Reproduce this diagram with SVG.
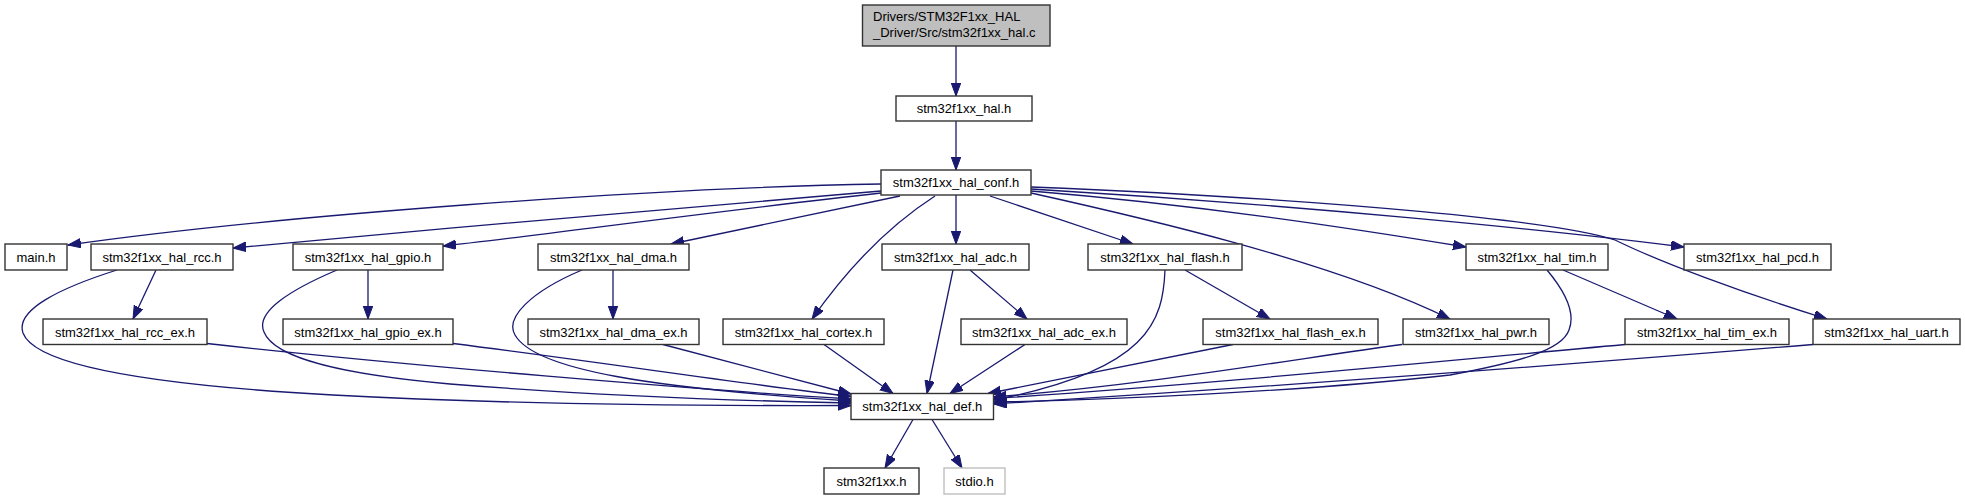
<svg xmlns="http://www.w3.org/2000/svg" width="1965" height="500" viewBox="0 0 1965 500">
<style>
.n rect{fill:#ffffff;stroke:#333333;stroke-width:1.4}
.n text{font-family:"Liberation Sans",Arial,sans-serif;font-size:13px;fill:#000000;text-anchor:middle}
#n_root rect{fill:#bfbfbf}
#n_root text{text-anchor:start}
#n_stdio rect{stroke:#bfbfbf}
.e path{fill:none;stroke:#191970;stroke-width:1.3;marker-end:url(#arr)}
</style>
<defs>
<marker id="arr" markerUnits="userSpaceOnUse" markerWidth="14" markerHeight="11" refX="13" refY="4.75" orient="auto"><path d="M0,0 L13,4.75 L0,9.5 z" fill="#191970" stroke="#191970" stroke-width="1"/></marker>
</defs>
<rect width="1965" height="500" fill="#ffffff"/>
<g id="edges" class="e">
<path d="M956,46 L956,96"/>
<path d="M956,121 L956,170"/>
<path d="M881,184 C 650,188 280,215 68,245"/>
<path d="M881,191 C 700,205 450,228 233,248"/>
<path d="M881,193 C 700,213 520,238 443,246"/>
<path d="M900,196 L671,244"/>
<path d="M935,196 C 890,225 850,265 812,319"/>
<path d="M956,195 L956,244"/>
<path d="M990,196 L1133,244"/>
<path d="M1031,193 C 1130,215 1330,260 1450,319"/>
<path d="M1031,191 C 1200,205 1350,228 1466,247"/>
<path d="M1031,189 C 1300,205 1550,230 1684,247"/>
<path d="M1031,187 C 1350,200 1560,222 1615,240 C 1660,262 1740,292 1827,319"/>
<path d="M156,270 L133,319"/>
<path d="M117,270 C 60,288 15,310 23,333 C 35,365 150,385 333,395 C 500,404 700,406 851,405.5"/>
<path d="M368,270 L368,319"/>
<path d="M337,270 C 290,290 255,312 264,332 C 275,360 350,375 450,384 C 600,396 750,401 851,403"/>
<path d="M207,343.5 C 400,365 700,390 851,399"/>
<path d="M453,343.5 C 600,362 750,385 851,396.5"/>
<path d="M613,270 L613,319"/>
<path d="M582,270 C 530,292 505,318 515,335 C 535,370 650,388 851,401"/>
<path d="M663,344.5 L851,394"/>
<path d="M824,344.5 L893,393.5"/>
<path d="M953,270 L927,393.5"/>
<path d="M970,270 L1027,319"/>
<path d="M1025,344.5 L950,393.5"/>
<path d="M1185,270 L1270,319"/>
<path d="M1165,270 C 1163,320 1150,370 993.5,400"/>
<path d="M1233,344.5 L988,393.5"/>
<path d="M1402,344.5 C 1300,358 1150,385 993.5,397"/>
<path d="M1547,270 C 1568,295 1575,315 1569,330 C 1562,350 1520,362 1450,375 C 1300,392 1100,400 993.5,402"/>
<path d="M1563,270 L1677,319"/>
<path d="M1625,344.5 C 1400,365 1200,385 993.5,398.5"/>
<path d="M1813,344.5 C 1600,362 1300,385 993.5,404"/>
<path d="M913,419.5 L885,468"/>
<path d="M932,419.5 L962,468"/>
</g>
<g id="n_root" class="n"><rect x="862.5" y="5" width="187.5" height="41"/><text x="873" y="21">Drivers/STM32F1xx_HAL</text><text x="873" y="37">_Driver/Src/stm32f1xx_hal.c</text></g>
<g id="n_hal" class="n"><rect x="896" y="96" width="136" height="25"/><text x="964" y="113">stm32f1xx_hal.h</text></g>
<g id="n_conf" class="n"><rect x="881" y="170" width="150" height="25"/><text x="956" y="187">stm32f1xx_hal_conf.h</text></g>
<g id="n_main" class="n"><rect x="5" y="244" width="62" height="26"/><text x="36" y="261.5">main.h</text></g>
<g id="n_rcc" class="n"><rect x="91" y="244" width="142" height="26"/><text x="162" y="261.5">stm32f1xx_hal_rcc.h</text></g>
<g id="n_gpio" class="n"><rect x="293" y="244" width="150" height="26"/><text x="368" y="261.5">stm32f1xx_hal_gpio.h</text></g>
<g id="n_dma" class="n"><rect x="538" y="244" width="151" height="26"/><text x="613.5" y="261.5">stm32f1xx_hal_dma.h</text></g>
<g id="n_adc" class="n"><rect x="882" y="244" width="147" height="26"/><text x="955.5" y="261.5">stm32f1xx_hal_adc.h</text></g>
<g id="n_flash" class="n"><rect x="1088" y="244" width="154" height="26"/><text x="1165" y="261.5">stm32f1xx_hal_flash.h</text></g>
<g id="n_tim" class="n"><rect x="1466" y="244" width="142" height="26"/><text x="1537" y="261.5">stm32f1xx_hal_tim.h</text></g>
<g id="n_pcd" class="n"><rect x="1684" y="244" width="147" height="26"/><text x="1757.5" y="261.5">stm32f1xx_hal_pcd.h</text></g>
<g id="n_rcc_ex" class="n"><rect x="43" y="319" width="164" height="25.5"/><text x="125" y="336.5">stm32f1xx_hal_rcc_ex.h</text></g>
<g id="n_gpio_ex" class="n"><rect x="283" y="319" width="170" height="25.5"/><text x="368" y="336.5">stm32f1xx_hal_gpio_ex.h</text></g>
<g id="n_dma_ex" class="n"><rect x="528" y="319" width="171" height="25.5"/><text x="613.5" y="336.5">stm32f1xx_hal_dma_ex.h</text></g>
<g id="n_cortex" class="n"><rect x="723" y="319" width="161" height="25.5"/><text x="803.5" y="336.5">stm32f1xx_hal_cortex.h</text></g>
<g id="n_adc_ex" class="n"><rect x="961" y="319" width="166" height="25.5"/><text x="1044" y="336.5">stm32f1xx_hal_adc_ex.h</text></g>
<g id="n_flash_ex" class="n"><rect x="1203" y="319" width="175" height="25.5"/><text x="1290.5" y="336.5">stm32f1xx_hal_flash_ex.h</text></g>
<g id="n_pwr" class="n"><rect x="1403" y="319" width="146" height="25.5"/><text x="1476" y="336.5">stm32f1xx_hal_pwr.h</text></g>
<g id="n_tim_ex" class="n"><rect x="1625" y="319" width="164" height="25.5"/><text x="1707" y="336.5">stm32f1xx_hal_tim_ex.h</text></g>
<g id="n_uart" class="n"><rect x="1813" y="319" width="147" height="25.5"/><text x="1886.5" y="336.5">stm32f1xx_hal_uart.h</text></g>
<g id="n_def" class="n"><rect x="851" y="393.5" width="142.5" height="26"/><text x="922.25" y="411">stm32f1xx_hal_def.h</text></g>
<g id="n_f1xx" class="n"><rect x="824" y="468" width="95" height="26"/><text x="871.5" y="485.5">stm32f1xx.h</text></g>
<g id="n_stdio" class="n"><rect x="944" y="468" width="61" height="26"/><text x="974.5" y="485.5">stdio.h</text></g>
</svg>
